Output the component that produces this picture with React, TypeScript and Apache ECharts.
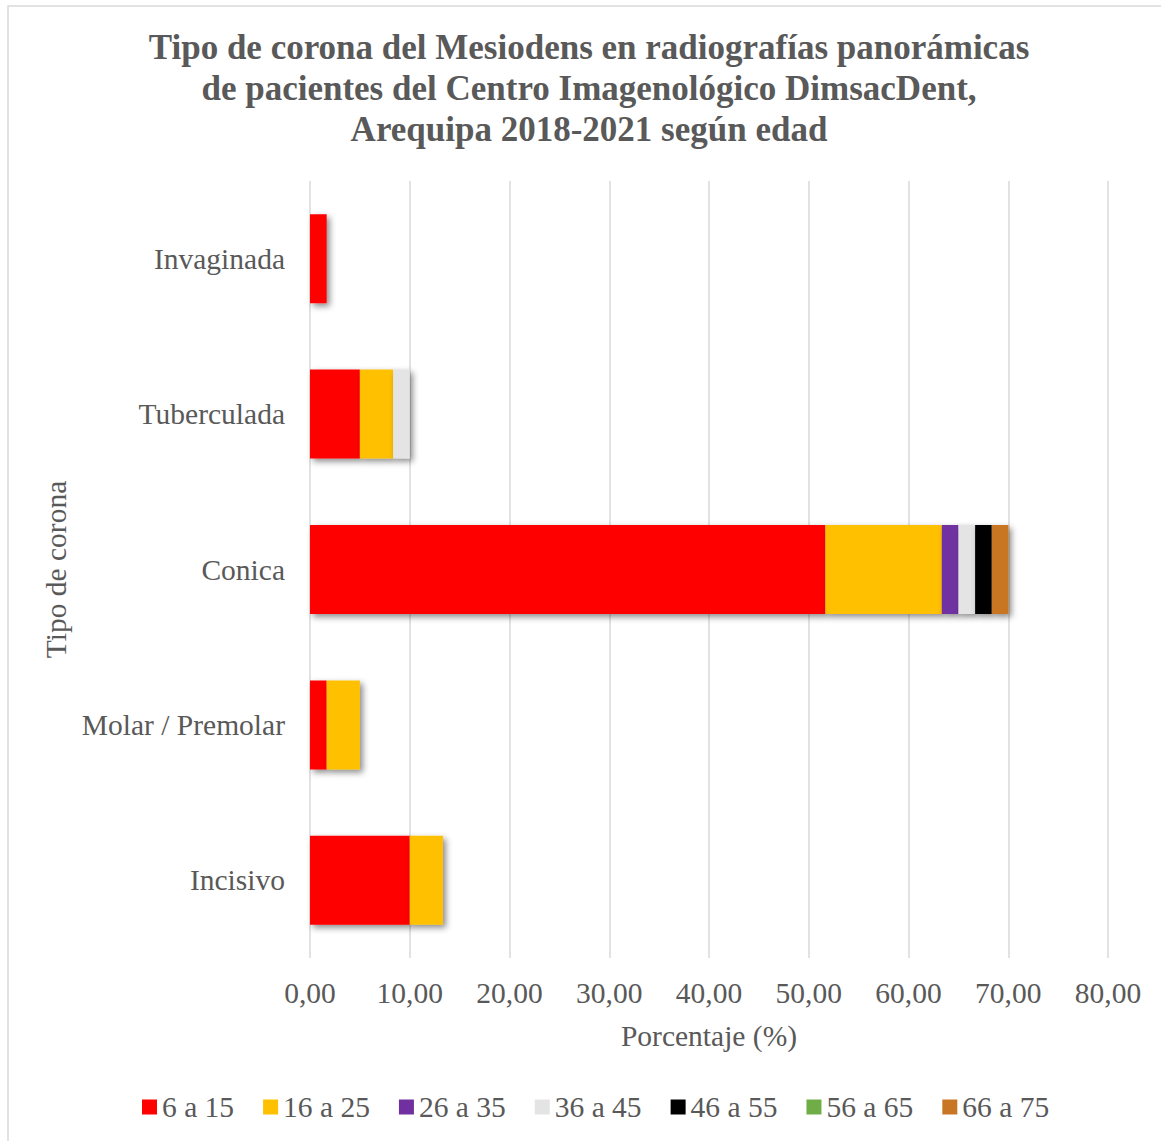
import React, { useEffect, useRef } from "react";
import * as echarts from "echarts";

const categories = ["Incisivo", "Molar / Premolar", "Conica", "Tuberculada", "Invaginada"];
const ageGroups = ["6 a 15", "16 a 25", "26 a 35", "36 a 45", "46 a 55", "56 a 65", "66 a 75"];
const s6a15 = [10.0, 1.67, 51.67, 5.0, 1.67];
const s16a25 = [3.33, 3.33, 11.67, 3.33, 0];
const s26a35 = [0, 0, 1.67, 0, 0];
const s36a45 = [0, 0, 1.67, 1.67, 0];
const s46a55 = [0, 0, 1.67, 0, 0];
const s56a65 = [0, 0, 0, 0, 0];
const s66a75 = [0, 0, 1.67, 0, 0];
const seriesValues = [s6a15, s16a25, s26a35, s36a45, s46a55, s56a65, s66a75];
const colors = ["#FF0000", "#FFC000", "#7030A0", "#E4E4E4", "#000000", "#70AD47", "#C97624"];
const xTicks = { min: 0, max: 80, interval: 10 };

const FONT = '"Liberation Serif", "Times New Roman", serif';
const TEXT = "#595959";
const FS = 29.5;

export default function App() {
  const ref = useRef<HTMLDivElement>(null);
  useEffect(() => {
    if (!ref.current) return;
    const chart = echarts.init(ref.current, undefined, { renderer: "svg" });
    chart.setOption({
      animation: false,
      backgroundColor: "#ffffff",
      textStyle: { fontFamily: FONT, color: TEXT },
      graphic: [
        {
          type: "rect",
          shape: { x: 8, y: 6, width: 1200, height: 1200 },
          style: { fill: "none", stroke: "#D9D9D9", lineWidth: 1.5 },
          silent: true,
        },
      ],
      title: {
        text: "Tipo de corona del Mesiodens en radiografías panorámicas\nde pacientes del Centro Imagenológico DimsacDent,\nArequipa 2018-2021 según edad",
        left: 584,
        top: 22,
        textAlign: "center",
        textStyle: {
          fontFamily: FONT,
          fontWeight: "bold",
          fontSize: 35,
          lineHeight: 41,
          color: TEXT,
        },
      },
      legend: {
        data: ageGroups,
        bottom: 14,
        left: 137,
        itemWidth: 15,
        itemHeight: 15,
        itemGap: 29,
        icon: "rect",
        textStyle: { fontFamily: FONT, fontSize: FS, color: TEXT },
      },
      grid: { left: 310, right: 53, top: 181, bottom: 183 },
      xAxis: {
        type: "value",
        min: xTicks.min,
        max: xTicks.max,
        interval: xTicks.interval,
        name: "Porcentaje (%)",
        nameLocation: "middle",
        nameGap: 63,
        nameTextStyle: { fontFamily: FONT, fontSize: FS, color: TEXT },
        axisLine: { show: false },
        axisTick: { show: false },
        axisLabel: {
          fontFamily: FONT,
          fontSize: FS,
          color: TEXT,
          margin: 20,
          formatter: (v: number) => v.toFixed(2).replace(".", ","),
        },
        splitLine: { show: true, lineStyle: { color: "#D9D9D9", width: 1.5 } },
      },
      yAxis: {
        type: "category",
        data: categories,
        name: "Tipo de corona",
        nameLocation: "middle",
        nameGap: 235,
        nameRotate: 90,
        nameTextStyle: { fontFamily: FONT, fontSize: FS, color: TEXT },
        axisLine: { show: false },
        axisTick: { show: false },
        axisLabel: { fontFamily: FONT, fontSize: FS, color: TEXT, margin: 25 },
      },
      series: ageGroups.map((name, i) => ({
        name,
        type: "bar",
        stack: "total",
        barWidth: 89,
        itemStyle: {
          color: colors[i],
          shadowColor: "rgba(0,0,0,0.45)",
          shadowBlur: 6,
          shadowOffsetX: 3,
          shadowOffsetY: 3,
        },
        data: seriesValues[i].map((v) => (v === 0 ? "-" : v)),
      })),
    });
    return () => chart.dispose();
  }, []);
  return (
    <div style={{ position: "fixed", left: 0, top: 0, width: 1161, height: 1141, overflow: "hidden" }}>
      <div ref={ref} style={{ width: 1161, height: 1141 }} />
    </div>
  );
}
